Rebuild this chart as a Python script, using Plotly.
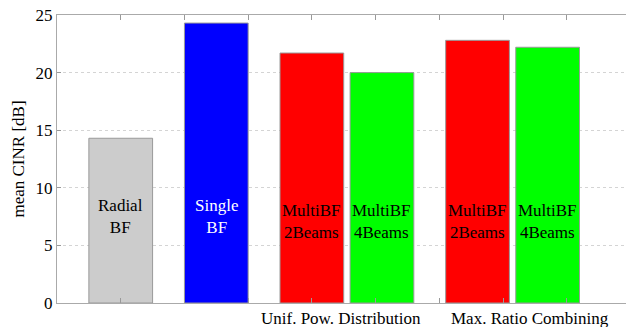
import plotly.graph_objects as go

# Data
labels = ["Radial<br>BF", "Single<br>BF", "MultiBF<br>2Beams", "MultiBF<br>4Beams", "MultiBF<br>2Beams", "MultiBF<br>4Beams"]
values = [14.3, 24.3, 21.7, 20.0, 22.8, 22.2]
colors = ["#cccccc", "#0000ff", "#ff0000", "#00ff00", "#ff0000", "#00ff00"]
text_colors = ["black", "white", "black", "black", "black", "black"]
group_labels = ["Unif. Pow. Distribution", "Max. Ratio Combining"]
y_ticks = [0, 5, 10, 15, 20, 25]

# layout positions (x in axis units)
bar_pos = [1.0, 2.5, 4.0, 5.1, 6.6, 7.7]
group_pos = [4.46, 7.43]
text_y = [7.55, 7.55, 7.05, 7.05, 7.05, 7.05]

FONT = "Liberation Serif"

fig = go.Figure()
fig.add_trace(go.Bar(
    x=bar_pos, y=values, width=1.0,
    marker=dict(color=colors, line=dict(color="#999999", width=1)),
    hoverinfo="skip", showlegend=False,
))

for xp, yp, t, c in zip(bar_pos, text_y, labels, text_colors):
    fig.add_annotation(x=xp, y=yp, xref="x", yref="y", text=t, showarrow=False,
                       font=dict(family=FONT, size=17, color=c), align="center")

for xp, t in zip(group_pos, group_labels):
    fig.add_annotation(x=xp, y=-0.015, xref="x", yref="paper", text=t, showarrow=False,
                       yanchor="top", font=dict(family=FONT, size=17, color="black"))

fig.update_layout(
    width=626, height=327,
    margin=dict(l=57, r=0, t=15, b=24, autoexpand=False),
    plot_bgcolor="white", paper_bgcolor="white",
    font=dict(family=FONT, size=17, color="black"),
    xaxis=dict(range=[0, 8.93], tickvals=list(range(1, 9)), showticklabels=False,
               ticks="inside", ticklen=5, tickcolor="#999999",
               showline=True, linecolor="#aaaaaa", linewidth=1, mirror="ticks",
               showgrid=False, zeroline=False, automargin=False),
    yaxis=dict(range=[0, 25], tickvals=y_ticks, ticks="inside", ticklen=4,
               tickcolor="#999999", showline=True, linecolor="#aaaaaa", linewidth=1,
               showgrid=True, gridcolor="#d4d4d4", griddash="dot", zeroline=False,
               ticklabelstandoff=0, automargin=False,
               title=dict(text="mean CINR [dB]", standoff=6,
                          font=dict(family=FONT, size=17))),
)

fig.write_html("out.html", config={"displayModeBar": False},
               post_script="document.body.style.margin='0';document.body.style.overflow='hidden';")
